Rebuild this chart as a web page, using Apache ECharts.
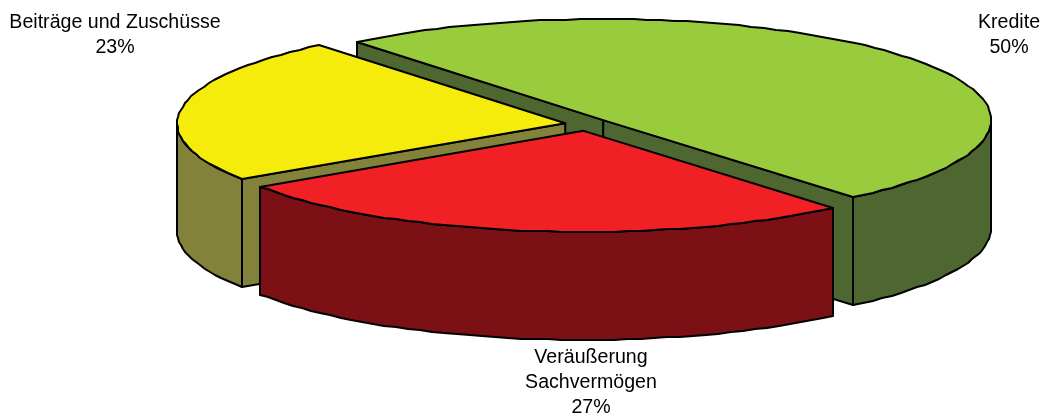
<!DOCTYPE html>
<html>
<head>
<meta charset="utf-8">
<title>Finanzierung</title>
<script src="https://cdn.jsdelivr.net/npm/echarts@6/dist/echarts.min.js"></script>
<style>
  html, body { margin: 0; padding: 0; background: #fff; }
  #chart { width: 1042px; height: 414px; }
</style>
</head>
<body>
<div id="chart"></div>
<script>
var categories = ["Kredite", "Veräußerung\nSachvermögen", "Beiträge und Zuschüsse"];
var shares = [49.8, 26.8, 23.4];
var topColors = ["#99cc3c", "#f12024", "#f5ec0c"];
var sideColors = ["#4e6630", "#7b1114", "#82823a"];
// back to front
var drawOrder = [0, 2, 1];

var centerX = 586.6, centerY = 124.3;
var radiusX = 388, radiusY = 101, depth = 108;
var explodeX = 21.6, explodeY = 6.6;
var startAngle = -129.3;
var labelPos = [[1009, 10], [591, 345], [115, 10]];

var total = shares.reduce(function (a, b) { return a + b; }, 0);
var rad = Math.PI / 180;

function sliceAngles(index) {
  var a = startAngle;
  for (var i = 0; i < index; i++) a += shares[i] / total * 360;
  return [a, a + shares[index] / total * 360];
}

function rim(apex, from, to) {
  var pts = [];
  var n = Math.max(2, Math.ceil((to - from) / 2));
  for (var i = 0; i <= n; i++) {
    var t = (from + (to - from) * i / n) * rad;
    pts.push([
      Math.round(apex[0] + radiusX * Math.cos(t)),
      Math.round(apex[1] + radiusY * Math.sin(t))
    ]);
  }
  return pts;
}

function down(pts) {
  return pts.map(function (p) { return [p[0], p[1] + depth]; }).reverse();
}

function face(points, fill) {
  return {
    type: "polygon",
    shape: { points: points },
    style: { fill: fill, stroke: "#000", lineWidth: 2, lineJoin: "round" }
  };
}

function renderItem(params, api) {
  var index = api.value(0);
  var ang = sliceAngles(index);
  var mid = (ang[0] + ang[1]) / 2 * rad;
  var apex = [centerX + explodeX * Math.cos(mid), centerY + explodeY * Math.sin(mid)];
  var side = sideColors[index];
  var children = [];

  function wall(angle) {
    var edge = [apex, rim(apex, angle, angle + 0.001)[0]];
    children.push(face(edge.concat(down(edge)), side));
  }
  if (Math.cos(ang[0] * rad) < 0) wall(ang[0]);
  if (Math.cos(ang[1] * rad) > 0) wall(ang[1]);

  // only the part of the outer wall that faces the viewer
  for (var k = -360; k <= 360; k += 360) {
    var from = Math.max(ang[0], k), to = Math.min(ang[1], k + 180);
    if (to > from) {
      var arc = rim(apex, from, to);
      children.push(face(arc.concat(down(arc)), side));
    }
  }

  children.push(face([apex].concat(rim(apex, ang[0], ang[1])), topColors[index]));
  children.push({
    type: "text",
    style: {
      text: categories[index] + "\n" + Math.round(shares[index]) + "%",
      x: labelPos[index][0],
      y: labelPos[index][1],
      align: "center",
      verticalAlign: "top",
      lineHeight: 25,
      fill: "#000",
      font: '19.6px "Liberation Sans", Arial, sans-serif'
    }
  });
  return { type: "group", children: children };
}

var thisChart = echarts.init(document.getElementById("chart"));
thisChart.setOption({
  animation: false,
  backgroundColor: "#fff",
  series: [
    {
      type: "custom",
      coordinateSystem: "none",
      renderItem: renderItem,
      data: drawOrder.map(function (i) { return [i, shares[i]]; })
    }
  ]
});
</script>
</body>
</html>
